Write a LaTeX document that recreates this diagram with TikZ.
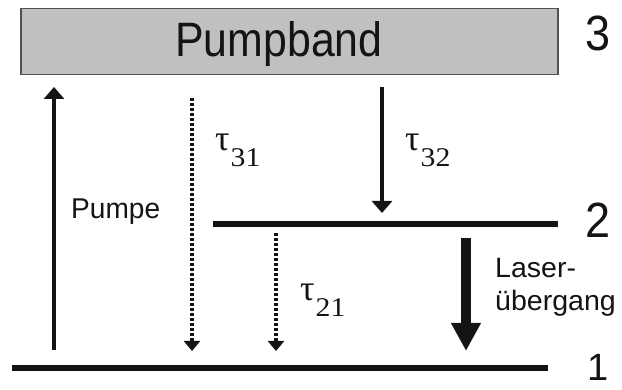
\documentclass[tikz,border=0pt]{standalone}
\usepackage{fontspec}
\setmainfont{Liberation Sans}
\newfontfamily\serifgr{Liberation Serif}
\usetikzlibrary{arrows.meta}
\definecolor{ink}{RGB}{20,20,20}
\definecolor{bandfill}{RGB}{192,192,192}
\definecolor{bandedge}{RGB}{80,80,80}
\newcommand\mytau[1]{{\serifgr\fontsize{36}{36}\selectfont τ\kern1pt\raisebox{-16pt}{\scalebox{1.1}[1]{\fontsize{27}{27}\selectfont #1}}}}
\begin{document}
\begin{tikzpicture}[x=1pt,y=-1pt,
  lvl/.style={line width=6pt,draw=ink},
  solidarr/.style={line width=3.5pt,draw=ink,-{Triangle[width=20pt,length=12pt]}},
  dotarr/.style={line width=3.5pt,draw=ink,dash pattern=on 3pt off 2pt,-{Triangle[width=16pt,length=10pt]}},
  laserarr/.style={line width=10pt,draw=ink,-{Triangle[width=28pt,length=28pt]}},
  lab/.style={text=ink,inner sep=0pt,anchor=base west},
  tlab/.style={text=ink,inner sep=0pt,anchor=base west}]
\useasboundingbox (0,0) rectangle (622,390);
% pump band
\node[draw=bandedge,fill=bandfill,line width=1.5pt,minimum width=537pt,minimum height=66pt,anchor=north west,inner sep=0pt] (band) at (20,8) {};
\node[lab,anchor=base] (bandtxt) at (279,57) {\scalebox{1.02}[1.15]{\fontsize{42}{42}\selectfont Pumpband}};
% levels
\coordinate (l2a) at (213,224); \coordinate (l2b) at (558,224);
\coordinate (l1a) at (12,368);  \coordinate (l1b) at (548,368);
\draw[lvl] (l2a) -- (l2b);
\draw[lvl] (l1a) -- (l1b);
% level numbers
\node[lab] (n3) at (585,51) {\scalebox{1}[1.1]{\fontsize{45}{45}\selectfont 3}};
\node[lab] (n2) at (585,238) {\scalebox{1}[1.1]{\fontsize{45}{45}\selectfont 2}};
\node[lab] (n1) at (587,381) {\fontsize{38}{38}\selectfont 1};
% arrows
\coordinate (pa) at (54,350); \coordinate (pb) at (54,87);
\draw[solidarr] (pa) -- (pb);
\coordinate (t32a) at (382,87); \coordinate (t32b) at (382,213);
\draw[solidarr] (t32a) -- (t32b);
\coordinate (t31a) at (192,98); \coordinate (t31b) at (192,351);
\draw[dotarr] (t31a) -- (t31b);
\coordinate (t21a) at (276,233); \coordinate (t21b) at (276,351);
\draw[dotarr] (t21a) -- (t21b);
\coordinate (la) at (466,238); \coordinate (lb) at (466,351);
\draw[laserarr] (la) -- (lb);
% labels
\node[lab] (pumpe) at (71,219) {\scalebox{1.08}[1.1]{\fontsize{26}{26}\selectfont Pumpe}};
\node[lab] (laser) at (495,278) {\scalebox{1.12}[1.1]{\fontsize{25.5}{25.5}\selectfont Laser-}};
\node[lab] (ueber) at (495,311) {\scalebox{1.12}[1.1]{\fontsize{25.5}{25.5}\selectfont übergang}};
\node[tlab] (tau31) at (215,151) {\mytau{31}};
\node[tlab] (tau32) at (405,151) {\mytau{32}};
\node[tlab] (tau21) at (300,301) {\mytau{21}};
\end{tikzpicture}
\end{document}
